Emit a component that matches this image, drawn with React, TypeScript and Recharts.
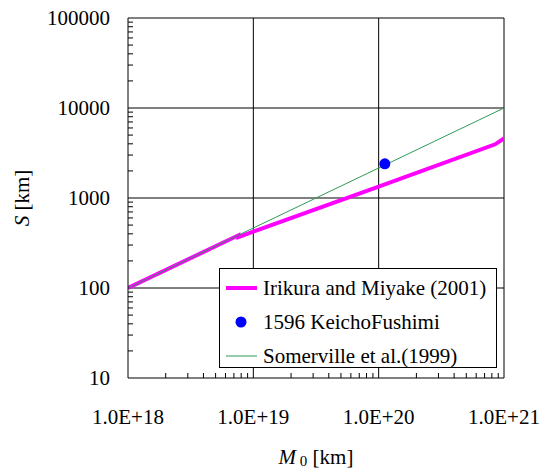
import { ComposedChart, Line, Scatter, XAxis, YAxis, ReferenceLine } from "recharts";

// tick values
const xMajor = [1e18, 1e19, 1e20, 1e21];
const yMajor = [10, 100, 1000, 10000, 100000];
const minorSteps = [2, 3, 4, 5, 6, 7, 8, 9];

// series
const irikura = [
  { m0: 1e18, s: 100 },
  { m0: 7.6e18, s: 385 },
  { m0: 7.6e18, s: 368 },
  { m0: 1e20, s: 1340 },
  { m0: 8.5e20, s: 3950 },
  { m0: 1e21, s: 4600 },
];
const keicho = [{ m0: 1.12e20, s: 2400 }];
const somerville = [
  { m0: 1e18, s: 100 },
  { m0: 1e21, s: 10000 },
];

const legendItems = [
  { name: "Irikura and Miyake (2001)", kind: "thick" },
  { name: "1596 KeichoFushimi", kind: "dot" },
  { name: "Somerville et al.(1999)", kind: "thin" },
];

const FONT = "'Liberation Serif', 'Times New Roman', serif";

const minorOf = (majors: number[]) =>
  majors.slice(0, -1).flatMap((d) => minorSteps.map((m) => m * d));

const xTicks = [...xMajor, ...minorOf(xMajor)];
const yTicks = [...yMajor, ...minorOf(yMajor)];

const XTick = ({ x, y, payload }: any) => {
  const major = xMajor.includes(payload.value);
  return (
    <g>
      {!major && <line x1={x} x2={x} y1={y} y2={y - 5} stroke="#000" />}
      {major && (
        <text x={x} y={y + 39} textAnchor="middle" dominantBaseline="central" fontSize={21} style={{ fontFamily: FONT }} fill="#000">
          {`1.0E+${Math.round(Math.log10(payload.value))}`}
        </text>
      )}
    </g>
  );
};

const YTick = ({ x, y, payload }: any) => {
  const major = yMajor.includes(payload.value);
  return (
    <g>
      {!major && <line x1={x} x2={x + 5} y1={y} y2={y} stroke="#000" />}
      {major && (
        <text x={x - 18} y={y} textAnchor="end" dominantBaseline="central" fontSize={21} style={{ fontFamily: FONT }} fill="#000">
          {payload.value}
        </text>
      )}
    </g>
  );
};

const LegendBox = () => (
  <div
    style={{
      position: "absolute",
      left: 219,
      top: 268,
      width: 278,
      height: 100,
      boxSizing: "border-box",
      border: "1px solid #000",
      background: "#fff",
      fontFamily: FONT,
      fontSize: 21,
      color: "#000",
      paddingTop: 2,
    }}
  >
    {legendItems.map((e) => (
      <div key={e.name} style={{ display: "flex", alignItems: "center", height: 34, whiteSpace: "nowrap" }}>
        <svg width={42} height={20} style={{ flex: "none" }}>
          {e.kind === "thick" && <line x1={6} x2={37} y1={10} y2={10} stroke="#ff00ff" strokeWidth={4} />}
          {e.kind === "thin" && <line x1={6} x2={37} y1={10} y2={10} stroke="#2e9a5a" strokeWidth={1} />}
          {e.kind === "dot" && <circle cx={21} cy={10} r={5.5} fill="#0000ff" />}
        </svg>
        <span style={{ marginLeft: 1 }}>{e.name}</span>
      </div>
    ))}
  </div>
);

export default function App() {
  return (
    <div style={{ position: "absolute", left: 0, top: 0, width: 544, height: 470, background: "#fff" }}>
      <ComposedChart width={544} height={470} margin={{ top: 18, right: 40, bottom: 32, left: 28 }}>
        <XAxis
          dataKey="m0"
          type="number"
          scale="log"
          domain={[1e18, 1e21]}
          ticks={xTicks}
          interval={0}
          tick={<XTick />}
          tickLine={false}
          tickSize={0}
          tickMargin={0}
          height={60}
          axisLine={{ stroke: "#000" }}
          allowDataOverflow
        />
        <YAxis
          dataKey="s"
          type="number"
          scale="log"
          domain={[10, 100000]}
          ticks={yTicks}
          interval={0}
          tick={<YTick />}
          tickLine={false}
          tickSize={0}
          tickMargin={0}
          width={100}
          axisLine={{ stroke: "#000" }}
          allowDataOverflow
        />
        {xMajor.slice(1).map((v) => (
          <ReferenceLine key={"x" + v} x={v} stroke="#000" strokeWidth={1} />
        ))}
        {yMajor.slice(1).map((v) => (
          <ReferenceLine key={"y" + v} y={v} stroke="#000" strokeWidth={1} />
        ))}
        <Line
          data={irikura}
          dataKey="s"
          type="linear"
          stroke="#ff00ff"
          strokeWidth={4}
          dot={false}
          isAnimationActive={false}
        />
        <Line
          data={somerville}
          dataKey="s"
          type="linear"
          stroke="#2e9a5a"
          strokeWidth={1}
          dot={false}
          isAnimationActive={false}
        />
        <Scatter data={keicho} dataKey="s" fill="#0000ff" shape={(p: any) => <circle cx={p.cx} cy={p.cy} r={5.5} fill="#0000ff" />} isAnimationActive={false} />
        <text x={316} y={457} textAnchor="middle" dominantBaseline="central" fontSize={21} style={{ fontFamily: FONT }} fill="#000">
          <tspan fontStyle="italic">M</tspan>
          <tspan fontSize={15} dy={4}> 0</tspan>
          <tspan dy={-4}> [km]</tspan>
        </text>
        <text
          x={22}
          y={198}
          transform="rotate(-90 22 198)"
          textAnchor="middle"
          dominantBaseline="central"
          fontSize={21}
          style={{ fontFamily: FONT }}
          fill="#000"
        >
          <tspan fontStyle="italic">S</tspan>
          <tspan> [km]</tspan>
        </text>
      </ComposedChart>
      <LegendBox />
    </div>
  );
}
